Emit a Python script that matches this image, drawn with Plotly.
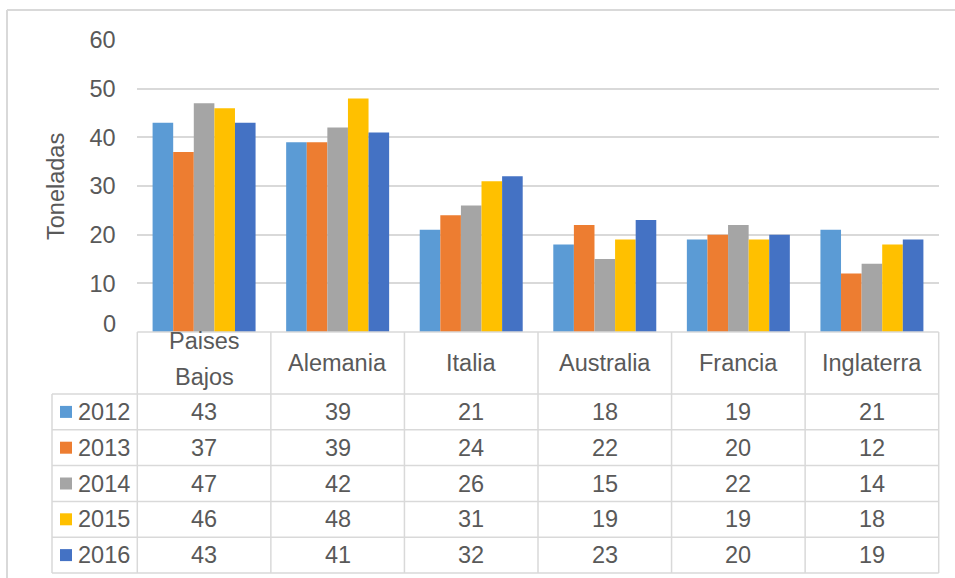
import textwrap
import plotly.graph_objects as go

categories = ["Paises Bajos", "Alemania", "Italia", "Australia", "Francia", "Inglaterra"]
years = ["2012", "2013", "2014", "2015", "2016"]
v2012 = [43, 39, 21, 18, 19, 21]
v2013 = [37, 39, 24, 22, 20, 12]
v2014 = [47, 42, 26, 15, 22, 14]
v2015 = [46, 48, 31, 19, 19, 18]
v2016 = [43, 41, 32, 23, 20, 19]
series = [v2012, v2013, v2014, v2015, v2016]
colors = ["#5B9BD5", "#ED7D31", "#A5A5A5", "#FFC000", "#4472C4"]
y_ticks = [0, 10, 20, 30, 40, 50, 60]
y_title = "Toneladas"

W, H = 955, 578
FONT = "Liberation Sans, Arial, sans-serif"
TXT = "#595959"
GRID = "#D9D9D9"


def px(x):
    return x / W


def py(y):
    return 1 - y / H


# layout in pixels
plot_l, plot_r = 137.3, 938.7
plot_top, plot_bot = 40, 332
head_bot = 394
row_h = 35.8
leg_l = 52

fig = go.Figure()
for name, vals, col in zip(years, series, colors):
    fig.add_trace(go.Bar(x=categories, y=vals, name=name, marker_color=col,
                         marker_line_width=0, showlegend=False))

shapes = []
annotations = []
ncat = len(categories)
col_w = (plot_r - plot_l) / ncat
table_bot = head_bot + row_h * len(years)

# outer chart border (left and top)
shapes.append(dict(type="line", xref="paper", yref="paper", x0=px(7), x1=px(7),
                   y0=py(10), y1=py(H), line=dict(color=GRID, width=2)))
shapes.append(dict(type="line", xref="paper", yref="paper", x0=px(7), x1=px(W),
                   y0=py(10), y1=py(10), line=dict(color=GRID, width=2)))

# table horizontal lines
shapes.append(dict(type="line", xref="paper", yref="paper", x0=px(plot_l), x1=px(plot_r),
                   y0=py(plot_bot), y1=py(plot_bot), line=dict(color=GRID, width=1.5)))
for r in range(len(years) + 1):
    yy = head_bot + r * row_h
    shapes.append(dict(type="line", xref="paper", yref="paper", x0=px(leg_l), x1=px(plot_r),
                       y0=py(yy), y1=py(yy), line=dict(color=GRID, width=1.5)))
# vertical lines
shapes.append(dict(type="line", xref="paper", yref="paper", x0=px(leg_l), x1=px(leg_l),
                   y0=py(head_bot), y1=py(table_bot), line=dict(color=GRID, width=1.5)))
for c in range(ncat + 1):
    xx = plot_l + c * col_w
    shapes.append(dict(type="line", xref="paper", yref="paper", x0=px(xx), x1=px(xx),
                       y0=py(plot_bot), y1=py(table_bot), line=dict(color=GRID, width=1.5)))

# header labels
for c, cat in enumerate(categories):
    cx = plot_l + (c + 0.5) * col_w
    lines = textwrap.wrap(cat, 10)
    n = len(lines)
    hc = 363 - 4 * (n - 1)
    for i, line in enumerate(lines):
        yy = hc + (i - (n - 1) / 2) * 36
        annotations.append(dict(x=px(cx), y=py(yy), xref="paper", yref="paper", text=line,
                                showarrow=False, xanchor="center", yanchor="middle",
                                font=dict(family=FONT, size=23.5, color=TXT)))

# data rows
for r, (name, vals, col) in enumerate(zip(years, series, colors)):
    cy = head_bot + (r + 0.5) * row_h
    shapes.append(dict(type="rect", xref="paper", yref="paper", x0=px(60), x1=px(72),
                       y0=py(cy - 6), y1=py(cy + 6), fillcolor=col, line=dict(width=0)))
    annotations.append(dict(x=px(76), y=py(cy), xref="paper", yref="paper", text=name,
                            showarrow=False, xanchor="left", yanchor="middle",
                            font=dict(family=FONT, size=23.5, color=TXT)))
    for c, v in enumerate(vals):
        cx = plot_l + (c + 0.5) * col_w
        annotations.append(dict(x=px(cx), y=py(cy), xref="paper", yref="paper", text=str(v),
                                showarrow=False, xanchor="center", yanchor="middle",
                                font=dict(family=FONT, size=23.5, color=TXT)))

# y title
annotations.append(dict(x=px(56), y=py(187), xref="paper", yref="paper", text=y_title,
                        showarrow=False, textangle=-90, xanchor="center", yanchor="middle",
                        font=dict(family=FONT, size=23.5, color=TXT)))

# lowest tick label sits slightly above its gridline (as in the original)
tick_text = [str(t) for t in y_ticks]
annotations.append(dict(x=px(118), y=py(plot_bot - 8), xref="paper", yref="paper",
                        text=tick_text[0], showarrow=False, xanchor="right", yanchor="middle",
                        font=dict(family=FONT, size=23.5, color=TXT)))
tick_text[0] = ""

fig.update_layout(
    width=W, height=H,
    margin=dict(l=0, r=0, t=0, b=0, pad=0, autoexpand=False),
    paper_bgcolor="white", plot_bgcolor="white",
    barmode="group", bargap=0.229, bargroupgap=0,
    font=dict(family=FONT, color=TXT),
    xaxis=dict(domain=[px(plot_l), px(plot_r)], showticklabels=False, showgrid=False,
               zeroline=False, showline=False, ticks="", range=[-0.5, ncat - 0.5],
               automargin=False),
    yaxis=dict(domain=[py(plot_bot), py(plot_top)], range=[0, 60], tickvals=y_ticks,
               ticktext=tick_text,
               showgrid=True, gridcolor=GRID, gridwidth=1.5, zeroline=False, showline=False,
               ticks="outside", ticklen=16, tickcolor="rgba(0,0,0,0)", automargin=False,
               tickfont=dict(family=FONT, size=23.5, color=TXT)),
    shapes=shapes,
    annotations=annotations,
)

fig.write_html("out.html")
